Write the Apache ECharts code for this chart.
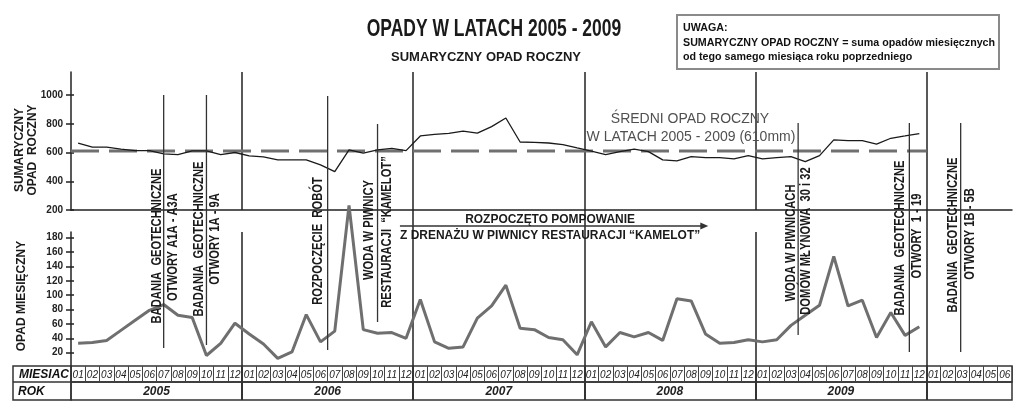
<!DOCTYPE html>
<html><head><meta charset="utf-8">
<script src="https://cdn.jsdelivr.net/npm/echarts@6/dist/echarts.min.js"></script>
<style>html,body{margin:0;padding:0;background:#fff}#c{width:1023px;height:417px}</style>
</head><body><div id="c"></div>
<script>
// ---- data ----
const MONTH_NAMES = ['01','02','03','04','05','06','07','08','09','10','11','12'];
const YEARS = ['2005','2006','2007','2008','2009'];
const EXTRA_MONTHS = ['01','02','03','04','05','06'];
const MONTHS = [].concat(MONTH_NAMES, MONTH_NAMES, MONTH_NAMES, MONTH_NAMES, MONTH_NAMES, EXTRA_MONTHS);
// sumaryczny opad roczny (mm), Jan 2005 .. Dec 2009
const YEARLY_SUM = [665,637,637,623,613,613,590,585,611,611,585,600,
                    576,569,549,549,549,514,467,618,595,618,628,613,
                    715,726,733,748,735,780,840,673,670,666,655,632,
                    610,585,606,624,606,549,542,571,564,564,556,578,
                    556,564,571,536,578,688,683,683,658,699,715,732];
// opad miesięczny (mm), Jan 2005 .. Dec 2009
const MONTHLY = [33,34,37,51,65,79,87,72,69,16,33,61,
                 46,32,12,21,73,35,50,225,52,47,48,40,
                 94,35,26,28,68,85,114,54,52,41,38,17,
                 63,28,48,42,48,37,95,92,46,33,34,38,
                 35,38,58,72,86,154,85,93,41,76,44,56];
const AVG = 610;
const TOP_TICKS = [200,400,600,800,1000];
const LOW_TICKS = [20,40,60,80,100,120,140,160,180];
const YEAR_BOUNDS = [12,24,36,48,60];
const YEAR_MIDS = [6,18,30,42,54];

const SANS = '"Liberation Sans",Arial,sans-serif';
const DARK = '#222';

const chart = echarts.init(document.getElementById('c'), null, {renderer:'canvas'});

function xVal(grid, showLine, bounds){
  return {type:'value', gridIndex:grid, min:0, max:66,
    axisLabel:{show:false},
    axisTick:{show:false, customValues: bounds},
    splitLine:{show:true, lineStyle:{color:DARK, width:1.5}},
    axisLine:{show:showLine, onZero:false, lineStyle:{color:DARK, width:1.5}}};
}
const plain = v => String(v);

const option = {
  animation:false,
  backgroundColor:'#fff',
  grid:[
    {left:71, right:11, top:72, height:138},
    {left:71, right:11, top:210, height:22},
    {left:71, right:11, top:232, height:135},
    {left:71, right:11, top:366, height:16, show:true, borderColor:'#333', borderWidth:1.5},
    {left:71, right:11, top:382, height:18, show:true, borderColor:'#333', borderWidth:1.5}
  ],
  xAxis:[
    xVal(0, true, YEAR_BOUNDS),
    xVal(1, false, [24,36,60]),
    xVal(2, false, YEAR_BOUNDS),
    {type:'category', gridIndex:3, data:MONTHS, position:'top', boundaryGap:true,
      axisLine:{show:false}, axisTick:{show:false},
      axisLabel:{inside:true, interval:0, margin:4, fontSize:10, fontStyle:'italic', color:'#222', fontFamily:SANS},
      splitLine:{show:true, interval:0, lineStyle:{color:'#444', width:1}}},
    {type:'value', gridIndex:4, min:0, max:66, position:'top',
      axisLine:{show:false},
      axisTick:{show:false, customValues:YEAR_BOUNDS},
      axisLabel:{inside:true, margin:4, customValues:YEAR_MIDS, fontSize:12, fontWeight:'bold', fontStyle:'italic', color:'#222', fontFamily:SANS,
        formatter: v => YEARS[Math.round((v-6)/12)] || ''},
      splitLine:{show:true, lineStyle:{color:'#333', width:2}}},
    {type:'value', gridIndex:3, min:0, max:66, position:'bottom',
      axisLine:{show:false}, axisLabel:{show:false},
      axisTick:{show:false, customValues:YEAR_BOUNDS},
      splitLine:{show:true, lineStyle:{color:'#333', width:2}}}
  ],
  yAxis:[
    {type:'value', gridIndex:0, min:200, max:1160, position:'left',
      axisLine:{show:true, lineStyle:{color:DARK, width:1.5}},
      axisTick:{show:true, length:5, customValues:TOP_TICKS, lineStyle:{color:DARK, width:1.5}},
      axisLabel:{customValues:TOP_TICKS, formatter:plain, fontSize:10, fontWeight:'bold', color:DARK, margin:8, fontFamily:SANS},
      splitLine:{show:false}},
    {type:'value', gridIndex:0, min:200, max:1160, position:'left', axisLine:{show:false},
      axisTick:{show:true, inside:true, length:3, customValues:TOP_TICKS, lineStyle:{color:DARK, width:1.5}},
      axisLabel:{show:false}, splitLine:{show:false}},
    {type:'value', gridIndex:1, show:false, min:0, max:1},
    {type:'value', gridIndex:2, min:0, max:188, position:'left',
      axisLine:{show:true, lineStyle:{color:DARK, width:1.5}},
      axisTick:{show:true, length:5, customValues:LOW_TICKS, lineStyle:{color:DARK, width:1.5}},
      axisLabel:{customValues:LOW_TICKS, formatter:plain, fontSize:10, fontWeight:'bold', color:DARK, margin:8, fontFamily:SANS},
      splitLine:{show:false}},
    {type:'value', gridIndex:2, min:0, max:188, position:'left', axisLine:{show:false},
      axisTick:{show:true, inside:true, length:3, customValues:LOW_TICKS, lineStyle:{color:DARK, width:1.5}},
      axisLabel:{show:false}, splitLine:{show:false}},
    {type:'value', gridIndex:3, show:false, min:0, max:1},
    {type:'value', gridIndex:4, show:false, min:0, max:1}
  ],
  series:[
    {type:'line', xAxisIndex:0, yAxisIndex:0, symbol:'none', z:4,
      data: [[0,AVG],[60,AVG]],
      lineStyle:{color:'#707070', width:3, type:[28,10]}},
    {type:'line', xAxisIndex:0, yAxisIndex:0, symbol:'none', z:5,
      data: YEARLY_SUM.map((v,i)=>[i+0.5, v]),
      lineStyle:{color:'#1a1a1a', width:1.3}},
    {type:'line', xAxisIndex:2, yAxisIndex:3, symbol:'none', clip:false, z:5,
      data: MONTHLY.map((v,i)=>[i+0.5, v]),
      lineStyle:{color:'#6f6f6f', width:3}}
  ]
};
chart.setOption(option);

// ---- annotations (x positions in month units on the shared month scale) ----
const px = v => chart.convertToPixel({xAxisIndex:0}, v);
const ANNOT = [
  {x:6.5,  y0:95,  y1:348, cols:[['BADANIA  GEOTECHNICZNE',-7,246],['OTWORY A1A - A3A',9,247]]},
  {x:9.5,  y0:95,  y1:345, cols:[['BADANIA  GEOTECHNICZNE',-7,239],['OTWORY 1A - 9A',9,239]]},
  {x:18,   y0:96,  y1:350, cols:[['ROZPOCZĘCIE  ROBÓT',-9,241]]},
  {x:21.5, y0:124, y1:322, cols:[['WODA W PIWNICY',-8,230],['RESTAURACJI  \u201CKAMELOT\u201D',10,232]]},
  {x:51,   y0:123, y1:335, cols:[['WODA W PIWNICACH',-7,243],['DOMÓW MŁYNOWA  30 i 32',8,241]]},
  {x:58.8, y0:123, y1:352, cols:[['BADANIA  GEOTECHNICZNE',-9,238],['OTWORY  1 - 19',8,236]]},
  {x:62.4, y0:123, y1:352, cols:[['BADANIA  GEOTECHNICZNE',-8,235],['OTWORY 1B - 5B',9,234]]}
];
const g = [];
function txt(s, x, y, font, opts){
  return Object.assign({type:'text', x:x, y:y, z:11,
    style:{text:s, fill:'#1a1a1a', font:font, textAlign:'center', textVerticalAlign:'middle'}}, opts || {});
}
ANNOT.forEach(a => {
  const x = px(a.x);
  g.push({type:'line', shape:{x1:x, y1:a.y0, x2:x, y2:a.y1}, style:{stroke:'#333', lineWidth:1.3}, z:10});
  a.cols.forEach(c => {
    g.push(txt(c[0], x + c[1], c[2], 'bold 14px ' + SANS, {rotation:Math.PI/2, scaleX:0.8}));
  });
});
// arrow
const ax0 = px(23.07), ax1 = px(44.7);
g.push({type:'line', shape:{x1:ax0, y1:226, x2:ax1-6, y2:226}, style:{stroke:'#333', lineWidth:1.3}, z:10});
g.push({type:'polygon', shape:{points:[[ax1,226],[ax1-8,222.5],[ax1-8,229.5]]}, style:{fill:'#333'}, z:10});
const amid = (ax0 + ax1) / 2 - 4;
g.push(txt('ROZPOCZĘTO POMPOWANIE', amid, 219, 'bold 13px ' + SANS, {scaleX:0.92}));
g.push(txt('Z DRENAŻU W PIWNICY RESTAURACJI \u201CKAMELOT\u201D', amid, 235, 'bold 13px ' + SANS, {scaleX:0.92}));
// average label
const avgStyle = s => ({style:{text:s, fill:'#505050', font:'14px ' + SANS, textAlign:'center', textVerticalAlign:'middle'}});
g.push(txt('', 690, 119, '', avgStyle('ŚREDNI OPAD ROCZNY')));
g.push(txt('', 691, 137, '', avgStyle('W LATACH 2005 - 2009 (610mm)')));
// titles
g.push(txt('OPADY W LATACH 2005 - 2009', 494, 30, 'bold 23px ' + SANS, {scaleX:0.76}));
g.push(txt('SUMARYCZNY OPAD ROCZNY', 486, 57, 'bold 13px ' + SANS));
// note box
g.push({type:'rect', shape:{x:677, y:15, width:322, height:54}, style:{fill:'none', stroke:'#8a8a8a', lineWidth:2}, z:10});
const noteStyle = s => ({style:{text:s, fill:'#111', font:'bold 10.7px ' + SANS, textAlign:'left', textVerticalAlign:'middle'}});
g.push(txt('', 683, 28, '', noteStyle('UWAGA:')));
g.push(txt('', 683, 43, '', noteStyle('SUMARYCZNY OPAD ROCZNY = suma opadów miesięcznych')));
g.push(txt('', 683, 57, '', noteStyle('od tego samego miesiąca roku poprzedniego')));
// axis names
g.push(txt('SUMARYCZNY', 20, 150, 'bold 12px ' + SANS, {rotation:Math.PI/2}));
g.push(txt('OPAD  ROCZNY', 33, 150, 'bold 12px ' + SANS, {rotation:Math.PI/2}));
g.push(txt('OPAD MIESIĘCZNY', 22, 296, 'bold 12px ' + SANS, {rotation:Math.PI/2}));
// table label column
g.push({type:'rect', shape:{x:13, y:366, width:58, height:34}, style:{fill:'none', stroke:'#333', lineWidth:1.5}, z:10});
g.push({type:'line', shape:{x1:13, y1:382, x2:71, y2:382}, style:{stroke:'#333', lineWidth:1.5}, z:10});
const lblStyle = s => ({style:{text:s, fill:'#111', font:'italic bold 12px ' + SANS, textAlign:'left', textVerticalAlign:'middle'}});
g.push(txt('', 19, 374.5, '', lblStyle('MIESIAC')));
g.push(txt('', 18, 391.5, '', lblStyle('ROK')));

chart.setOption({graphic:g});
</script></body></html>
